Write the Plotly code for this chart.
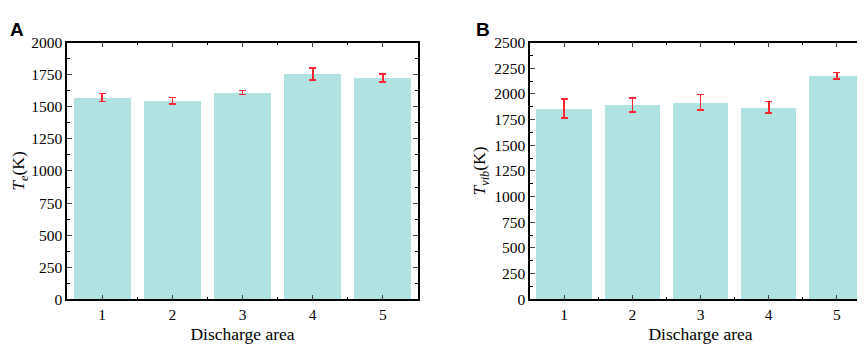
import plotly.graph_objects as go

categories = [1, 2, 3, 4, 5]
te_values = [1573, 1548, 1612, 1755, 1724]
te_errors = [31, 25, 15, 46, 32]
tvib_values = [1859, 1893, 1918, 1871, 2178]
tvib_errors = [91, 66, 76, 57, 32]
te_ticks = list(range(0, 2001, 250))
tvib_ticks = list(range(0, 2501, 250))

BAR = "rgb(176,226,226)"
ERR = "rgb(255,40,50)"
FONT = "Liberation Serif"

fig = go.Figure()
fig.add_trace(go.Bar(x=categories, y=te_values, width=0.81, marker=dict(color=BAR, line=dict(width=0)),
                     error_y=dict(type="data", array=te_errors, color=ERR, thickness=1.6, width=3.5),
                     xaxis="x", yaxis="y", showlegend=False))
fig.add_trace(go.Bar(x=categories, y=tvib_values, width=0.81, marker=dict(color=BAR, line=dict(width=0)),
                     error_y=dict(type="data", array=tvib_errors, color=ERR, thickness=1.6, width=3.5),
                     xaxis="x2", yaxis="y2", showlegend=False))

ydom = [1 - 297 / 344, 1 - 27 / 344]
common_x = dict(range=[0.5, 5.5], tickvals=categories, ticks="inside", ticklen=5, tickwidth=1.3,
                showline=True, linewidth=1.5, linecolor="black", mirror="ticks", showgrid=False, zeroline=False,
                tickfont=dict(family=FONT, size=15.5, color="black"),
                minor=dict(tickvals=[1.5, 2.5, 3.5, 4.5], ticks="inside", ticklen=3, tickwidth=1.2, tickcolor="black"),
                title=dict(text="Discharge area", font=dict(family=FONT, size=17.5, color="black"), standoff=6))
common_y = dict(ticks="inside", ticklen=5, tickwidth=1.3, showline=True, linewidth=1.5, linecolor="black",
                mirror="ticks", showgrid=False, zeroline=False,
                tickfont=dict(family=FONT, size=15.5, color="black"),
                minor=dict(dtick=125, ticks="inside", ticklen=3, tickwidth=1.2, tickcolor="black"))

fig.update_layout(
    width=865, height=344, margin=dict(l=0, r=0, t=0, b=0),
    plot_bgcolor="white", paper_bgcolor="white", bargap=0,
    xaxis=dict(domain=[59 / 865, 410 / 865], anchor="y", **common_x),
    yaxis=dict(domain=ydom, anchor="x", range=[0, 2000], tickvals=te_ticks,
               title=dict(text="<i>T</i><sub><i>e</i></sub>(K)", font=dict(family=FONT, size=17.5, color="black"), standoff=4),
               **common_y),
    xaxis2=dict(domain=[522 / 865, 863 / 865], anchor="y2", **common_x),
    yaxis2=dict(domain=ydom, anchor="x2", range=[0, 2500], tickvals=tvib_ticks,
                title=dict(text="<i>T</i><sub><i>vib</i></sub>(K)", font=dict(family=FONT, size=17.5, color="black"), standoff=4),
                **common_y),
    annotations=[
        dict(text="<b>A</b>", x=0, y=1, xref="paper", yref="paper", xanchor="left", yanchor="top",
             showarrow=False, font=dict(family="Liberation Sans", size=19, color="black")),
        dict(text="<b>B</b>", x=466 / 865, y=1, xref="paper", yref="paper", xanchor="left", yanchor="top",
             showarrow=False, font=dict(family="Liberation Sans", size=19, color="black")),
    ],
)

fig.write_html("out.html")
